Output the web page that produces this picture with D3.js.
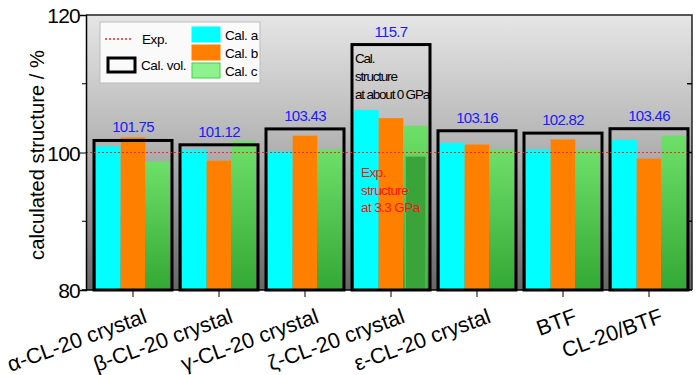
<!DOCTYPE html>
<html>
<head>
<meta charset="utf-8">
<script src="https://cdn.jsdelivr.net/npm/d3@7"></script>
<style>
	body { margin: 0; background: #fff; }
	svg text { font-family: "Liberation Sans", Arial, sans-serif; }
</style>
</head>
<body>
<svg id="chart" width="700" height="375"></svg>
<script>
const categories = ["α-CL-20 crystal", "β-CL-20 crystal", "γ-CL-20 crystal", "ζ-CL-20 crystal", "ε-CL-20 crystal", "BTF", "CL-20/BTF"];
const seriesNames = ["Cal. a", "Cal. b", "Cal. c"];
const calA = [100.9, 100.45, 100.15, 106.2, 101.4, 100.45, 101.85];
const calB = [102.2, 98.8, 102.45, 105.0, 101.15, 101.9, 99.1];
const calC = [98.7, 101.7, 100.5, 103.9, 100.5, 100.4, 102.45];
const calVol = [101.75, 101.12, 103.43, 115.7, 103.16, 102.82, 103.46];
const calVolLabels = ["101.75", "101.12", "103.43", "115.7", "103.16", "102.82", "103.46"];
// darker overlay inside the zeta green bar (exp. structure)
const expZeta = [null, null, null, 99.45, null, null, null];
const expLevel = 100;
const yTicks = [80, 100, 120];
const yMinor = [90, 110];

const plotLeft = 86,
		plotRight = 692,
		plotTop = 15,
		plotBottom = 290;

const svg = d3.select("#chart");
const defs = svg.append("defs");

// gradients

const bg = defs.append("linearGradient")
	.attr("id", "bg")
	.attr("x1", 0).attr("y1", 0).attr("x2", 0).attr("y2", 1);
bg.append("stop").attr("offset", "0%").attr("stop-color", "#e6e6e6");
bg.append("stop").attr("offset", "45%").attr("stop-color", "#b6b6b6");
bg.append("stop").attr("offset", "100%").attr("stop-color", "#666");

const gr = defs.append("linearGradient")
	.attr("id", "green")
	.attr("x1", 0).attr("y1", 0).attr("x2", 0).attr("y2", 1);
gr.append("stop").attr("offset", "0%").attr("stop-color", "#6ee06a");
gr.append("stop").attr("offset", "100%").attr("stop-color", "#34a834");

const colors = ["#00ffff", "#ff8000", "url(#green)"];

// scales

const x = d3.scaleBand()
	.domain(categories)
	.range([90, plotRight])
	.padding(0);

const xs = d3.scaleBand()
	.domain(seriesNames)
	.range([6, 80]);

const y = d3.scaleLinear()
	.domain([80, 120])
	.range([plotBottom, plotTop]);

// background

svg.append("rect")
	.attr("x", plotLeft)
	.attr("y", plotTop)
	.attr("width", plotRight - plotLeft)
	.attr("height", plotBottom - plotTop)
	.attr("fill", "url(#bg)");

// bars

const seriesData = [calA, calB, calC];

const groups = svg.append("g")
	.selectAll("g")
		.data(categories)
		.enter()
		.append("g")
			.attr("transform", (d) => `translate(${x(d)},0)`);

groups.selectAll("rect.bar")
	.data((d, i) => seriesNames.map((s, j) => ({ s: s, v: seriesData[j][i], c: colors[j] })))
	.enter()
	.append("rect")
		.attr("class", "bar")
		.attr("x", (d) => xs(d.s))
		.attr("width", xs.bandwidth())
		.attr("y", (d) => y(d.v))
		.attr("height", (d) => y(80) - y(d.v))
		.attr("fill", (d) => d.c);

// dark inner bar in zeta group
groups.filter((d, i) => expZeta[i] !== null)
	.append("rect")
		.attr("x", (d) => xs("Cal. c") + 2)
		.attr("width", xs.bandwidth() - 4)
		.attr("y", (d) => y(expZeta[categories.indexOf(d)]))
		.attr("height", (d) => y(80) - y(expZeta[categories.indexOf(d)]))
		.attr("fill", "#3aa43a")
		.attr("stroke", "#5cc85c")
		.attr("stroke-width", 1);

// cal. vol. boxes
groups.append("rect")
	.attr("x", 4)
	.attr("width", 78)
	.attr("y", (d, i) => y(calVol[i]))
	.attr("height", (d, i) => y(80) - y(calVol[i]))
	.attr("fill", "none")
	.attr("stroke", "#000")
	.attr("stroke-width", 3);

groups.append("text")
	.attr("x", 43)
	.attr("y", (d, i) => y(calVol[i]) - 8)
	.attr("text-anchor", "middle")
	.attr("font-size", 15)
	.attr("letter-spacing", -0.7)
	.attr("fill", "#1a1aff")
	.text((d, i) => calVolLabels[i]);

// exp. line
svg.append("line")
	.attr("x1", plotLeft)
	.attr("x2", plotRight)
	.attr("y1", y(expLevel))
	.attr("y2", y(expLevel))
	.attr("stroke", "#ff2020")
	.attr("stroke-width", 1)
	.attr("stroke-dasharray", "2,2");

// annotations in zeta group
const zx = x(categories[3]);
const noteBlack = ["Cal.", "structure", "at about 0 GPa"];
const noteRed = ["Exp.", "structure", "at 3.3 GPa"];

svg.append("g")
	.selectAll("text")
		.data(noteBlack)
		.enter()
		.append("text")
			.attr("x", zx + 7)
			.attr("y", (d, i) => 63 + i * 18)
			.attr("font-size", 13.5)
			.attr("letter-spacing", -1.2)
			.attr("fill", "#000")
			.text((d) => d);

svg.append("g")
	.selectAll("text")
		.data(noteRed)
		.enter()
		.append("text")
			.attr("x", zx + 13)
			.attr("y", (d, i) => 177 + i * 17.5)
			.attr("font-size", 13.5)
			.attr("letter-spacing", -0.6)
			.attr("fill", "#ff1010")
			.text((d) => d);

// frame
svg.append("path")
	.attr("d", `M${plotLeft},${plotTop}H${plotRight}V${plotBottom}`)
	.attr("fill", "none")
	.attr("stroke", "#222")
	.attr("stroke-width", 1.5);

// axes

const yAxis = svg.append("g")
	.attr("transform", `translate(${plotLeft},0)`)
	.call(d3.axisLeft(y).tickValues(yTicks).tickSize(6).tickFormat(d3.format("d")));
yAxis.select(".domain").attr("stroke-width", 1.5);
yAxis.selectAll("text")
	.attr("font-size", 21)
	.attr("letter-spacing", -0.8)
	.attr("fill", "#000")
	.attr("x", -6)
	.attr("dy", "0.36em");

svg.append("g")
	.attr("transform", `translate(${plotLeft},0)`)
	.selectAll("line")
		.data(yMinor)
		.enter()
		.append("line")
			.attr("x1", -4)
			.attr("x2", 0)
			.attr("y1", (d) => y(d))
			.attr("y2", (d) => y(d))
			.attr("stroke", "#000");

// right inner ticks
svg.append("g")
	.attr("transform", `translate(${plotRight},0)`)
	.selectAll("line")
		.data([90, 100, 110])
		.enter()
		.append("line")
			.attr("x1", -5)
			.attr("x2", 0)
			.attr("y1", (d) => y(d))
			.attr("y2", (d) => y(d))
			.attr("stroke", "#000")
			.attr("stroke-width", 1.5);

const xAxis = svg.append("g")
	.attr("transform", `translate(0,${plotBottom})`)
	.call(d3.axisBottom(x).tickSize(7).tickSizeOuter(0));
xAxis.select(".domain")
	.attr("d", `M${plotLeft - 4},0H${plotRight}`)
	.attr("stroke-width", 1.5);
xAxis.selectAll("text")
	.attr("font-size", 21.5)
	.attr("fill", "#000")
	.attr("text-anchor", "end")
	.attr("dy", 0)
	.attr("y", 0)
	.attr("x", 0)
	.attr("transform", "translate(15,32) rotate(-20)");

// y label
svg.append("text")
	.attr("transform", "translate(44,155) rotate(-90)")
	.attr("text-anchor", "middle")
	.attr("font-size", 20.2)
	.text("calculated structure / %");

// legend
const legend = svg.append("g");
legend.append("rect")
	.attr("x", 100)
	.attr("y", 22)
	.attr("width", 160)
	.attr("height", 61)
	.attr("fill", "#fafafa")
	.attr("stroke", "#bbb");

legend.append("line")
	.attr("x1", 105).attr("x2", 131)
	.attr("y1", 39).attr("y2", 39)
	.attr("stroke", "#ff2020")
	.attr("stroke-width", 1.5)
	.attr("stroke-dasharray", "2,2");
legend.append("text")
	.attr("x", 142).attr("y", 44)
	.attr("font-size", 13.5)
	.attr("letter-spacing", -0.4)
	.text("Exp.");

legend.append("rect")
	.attr("x", 108).attr("y", 58)
	.attr("width", 27).attr("height", 14)
	.attr("fill", "none")
	.attr("stroke", "#000")
	.attr("stroke-width", 3);
legend.append("text")
	.attr("x", 141).attr("y", 70)
	.attr("font-size", 13.5)
	.attr("letter-spacing", -0.4)
	.text("Cal. vol.");

const legendColors = ["#00ffff", "#ff8000", "#8ef28e"];
const legendStroke = ["#00ffff", "#ff8000", "#4ccc4c"];

legend.selectAll("g.item")
	.data(seriesNames)
	.enter()
	.append("g")
		.attr("class", "item")
		.attr("transform", (d, i) => `translate(192,${27 + i * 18})`)
		.each(function(d, i) {
			const g = d3.select(this);
			g.append("rect")
				.attr("width", 28)
				.attr("height", 15)
				.attr("fill", legendColors[i])
				.attr("stroke", legendStroke[i]);
			g.append("text")
				.attr("x", 33)
				.attr("y", 13)
				.attr("font-size", 13.5)
				.attr("letter-spacing", -0.4)
				.text(d);
		});
</script>
</body>
</html>
